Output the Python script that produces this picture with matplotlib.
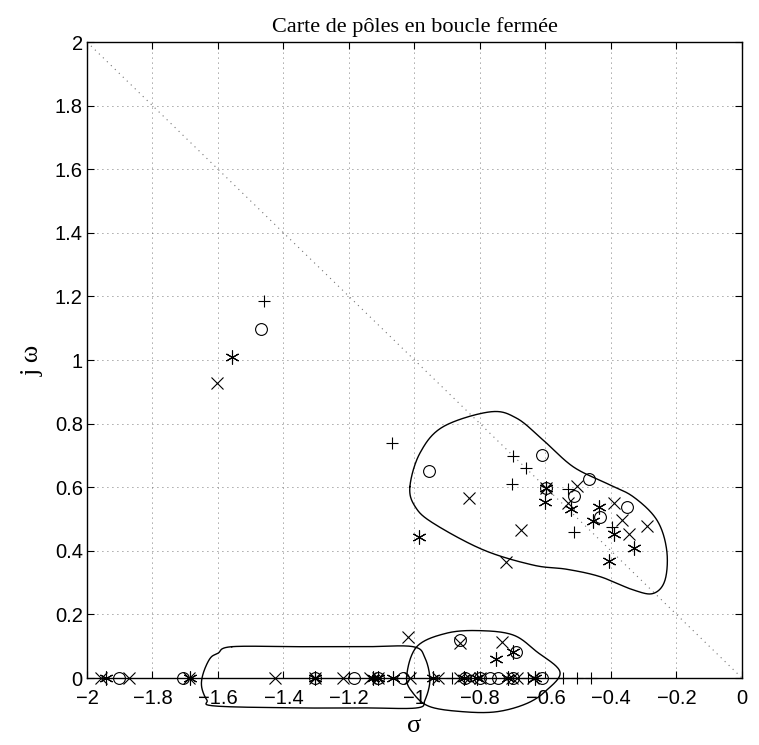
import numpy as np
import matplotlib
matplotlib.use("Agg")
import matplotlib.pyplot as plt

# closed loop poles
cross_re = [-1.958, -1.871, -1.69, -1.426, -1.304, -1.217, -1.136, -1.111, -1.014,
            -0.927, -0.86, -0.835, -0.80, -0.703, -0.688, -0.637,
            -1.604, -1.019, -0.861, -0.734, -0.834, -0.721, -0.676, -0.599,
            -0.505, -0.530, -0.390, -0.365, -0.344, -0.291]
cross_im = [0, 0, 0, 0, 0, 0, 0, 0, 0,
            0, 0, 0, 0, 0, 0, 0,
            0.929, 0.13, 0.11, 0.114, 0.567, 0.366, 0.465, 0.598,
            0.605, 0.551, 0.551, 0.497, 0.452, 0.479]

circle_re = [-1.901, -1.708, -1.304, -1.184, -1.111, -1.034, -0.845, -0.80, -0.769,
             -0.744, -0.70, -0.612,
             -1.469, -0.956, -0.611, -0.599, -0.466, -0.513, -0.434, -0.350,
             -0.861, -0.69]
circle_im = [0, 0, 0, 0, 0, 0, 0, 0, 0,
             0, 0, 0,
             1.097, 0.652, 0.702, 0.598, 0.627, 0.573, 0.505, 0.537,
             0.12, 0.083]

star_re = [-1.942, -1.686, -1.304, -1.126, -1.111, -1.067, -0.942, -0.85, -0.81,
           -0.714, -0.632,
           -1.558, -0.986, -0.601, -0.599, -0.523, -0.437, -0.454, -0.390,
           -0.329, -0.405, -0.751, -0.70]
star_im = [0, 0, 0, 0, 0, 0, 0, 0, 0,
           0, 0,
           1.010, 0.444, 0.554, 0.598, 0.530, 0.539, 0.495, 0.453,
           0.408, 0.369, 0.059, 0.083]

plus_re = [-0.886, -0.653, -0.547, -0.505, -0.462,
           -1.460, -1.068, -0.700, -0.660, -0.701, -0.532, -0.512, -0.396]
plus_im = [0, 0, 0, 0, 0,
           1.186, 0.740, 0.698, 0.659, 0.609, 0.594, 0.460, 0.476]

# hand drawn groups (outline points, in data units)
loop1_x = [-1.014, -0.983, -0.913, -0.769, -0.688, -0.607, -0.515, -0.413, -0.332,
           -0.260, -0.230, -0.235, -0.271, -0.332, -0.434, -0.535, -0.637,
           -0.790, -0.943, -0.998]
loop1_y = [0.602, 0.708, 0.790, 0.837, 0.817, 0.748, 0.664, 0.612, 0.570,
           0.497, 0.403, 0.308, 0.266, 0.277, 0.319, 0.342, 0.355,
           0.403, 0.487, 0.539]

loop2_x = [-1.558, -1.350, -1.150, -1.004, -0.968, -0.953, -0.968, -0.993, -1.150,
           -1.350, -1.609, -1.634, -1.650, -1.645, -1.624, -1.600]
loop2_y = [0.0985, 0.0985, 0.0985, 0.0985, 0.063, -0.006, -0.069, -0.094, -0.094,
           -0.094, -0.088, -0.069, -0.027, 0.015, 0.062, 0.078]

loop3_x = [-1.024, -0.993, -0.902, -0.800, -0.698, -0.627, -0.556, -0.596,
           -0.657, -0.749, -0.851, -0.953, -1.004]
loop3_y = [0.004, 0.0985, 0.141, 0.149, 0.135, 0.083, 0.020, -0.038,
           -0.080, -0.106, -0.106, -0.090, -0.048]


def smooth_closed(xs, ys, n=30):
    # Catmull-Rom through the outline points, closed
    p = np.column_stack([xs, ys])
    m = len(p)
    out = []
    for i in range(m):
        p0, p1, p2, p3 = p[(i - 1) % m], p[i], p[(i + 1) % m], p[(i + 2) % m]
        t = np.linspace(0, 1, n, endpoint=False)[:, None]
        out.append(0.5 * ((2 * p1) + (-p0 + p2) * t
                          + (2 * p0 - 5 * p1 + 4 * p2 - p3) * t ** 2
                          + (-p0 + 3 * p1 - 3 * p2 + p3) * t ** 3))
    out = np.vstack(out + [out[0][:1]])
    return out[:, 0], out[:, 1]


fig = plt.figure(figsize=(7.59, 7.45), dpi=100)
ax = fig.add_axes([0.1146, 0.0899, 0.8630, 0.8537])

ax.plot([-2, 0], [2, 0], linestyle=(0, (1, 4)), color="0.45", linewidth=0.8)

mk = dict(linestyle="none", color="black", markeredgewidth=0.8,
          markerfacecolor="none", clip_on=False)
ax.plot(cross_re, cross_im, marker="x", markersize=8.5, **mk)
ax.plot(circle_re, circle_im, marker="o", markersize=8.5, **mk)
ax.plot(star_re, star_im, marker=(6, 2, 0), markersize=10, **mk)
ax.plot(plus_re, plus_im, marker="+", markersize=8.5, **mk)

for lx, ly in [(loop1_x, loop1_y), (loop2_x, loop2_y), (loop3_x, loop3_y)]:
    sx, sy = smooth_closed(lx, ly)
    ax.plot(sx, sy, color="black", linewidth=1.0, clip_on=False)

ax.set_xlim(-2, 0)
ax.set_ylim(0, 2)
ax.set_xticks(np.round(np.arange(-2, 0.01, 0.2), 1))
ax.set_yticks(np.round(np.arange(0, 2.01, 0.2), 1))
ax.set_xticklabels(["\u22122", "\u22121.8", "\u22121.6", "\u22121.4", "\u22121.2", "\u22121",
                    "\u22120.8", "\u22120.6", "\u22120.4", "\u22120.2", "0"])
ax.set_yticklabels(["0", "0.2", "0.4", "0.6", "0.8", "1", "1.2", "1.4", "1.6", "1.8", "2"])
ax.tick_params(direction="in", top=True, right=True, length=5, width=0.8,
               labelsize=14.5)
ax.tick_params(axis="x", pad=8)
ax.tick_params(axis="y", pad=3)
for lab in ax.get_xticklabels() + ax.get_yticklabels():
    lab.set_family("Liberation Sans")
ax.grid(True, linestyle=(0, (1, 5)), color="0.3", linewidth=0.6)
for s in ax.spines.values():
    s.set_linewidth(1.0)

ax.set_title("Carte de pôles en boucle fermée", family="Liberation Serif",
             fontsize=16, pad=7)
ax.set_xlabel("\u03c3", family="Liberation Serif", fontsize=19, labelpad=5)
ax.set_ylabel("j \u03c9", family="Liberation Serif", fontsize=19, labelpad=8)

fig.savefig("out.png", dpi=100)
